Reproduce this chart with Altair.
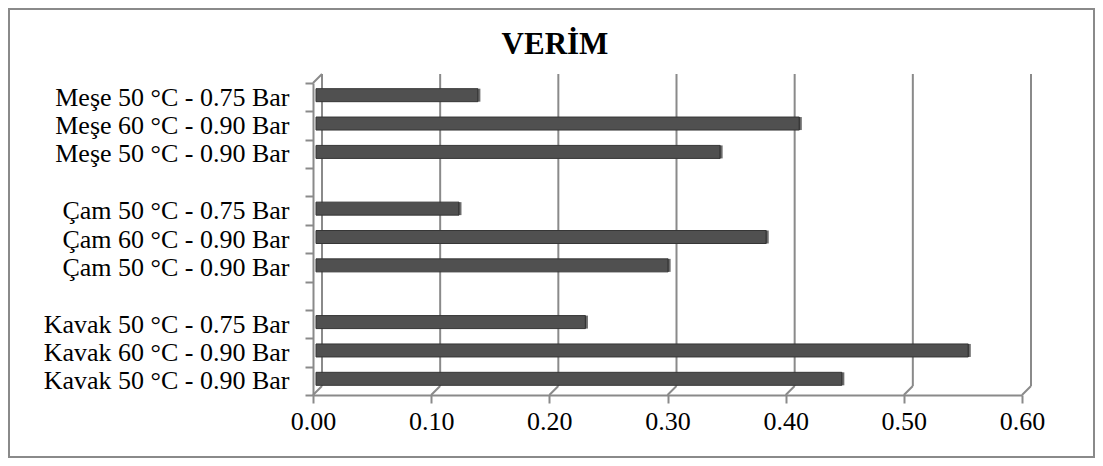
import altair as alt
import pandas as pd

# ---- data ----
categories = [
    "Meşe 50 °C - 0.75 Bar",
    "Meşe 60 °C - 0.90 Bar",
    "Meşe 50 °C - 0.90 Bar",
    " ",
    "Çam 50 °C - 0.75 Bar",
    "Çam 60 °C - 0.90 Bar",
    "Çam 50 °C - 0.90 Bar",
    "  ",
    "Kavak 50 °C - 0.75 Bar",
    "Kavak 60 °C - 0.90 Bar",
    "Kavak 50 °C - 0.90 Bar",
]
bar_labels = [
    "Meşe 50 °C - 0.75 Bar",
    "Meşe 60 °C - 0.90 Bar",
    "Meşe 50 °C - 0.90 Bar",
    "Çam 50 °C - 0.75 Bar",
    "Çam 60 °C - 0.90 Bar",
    "Çam 50 °C - 0.90 Bar",
    "Kavak 50 °C - 0.75 Bar",
    "Kavak 60 °C - 0.90 Bar",
    "Kavak 50 °C - 0.90 Bar",
]
verim = [0.137, 0.409, 0.342, 0.121, 0.381, 0.298, 0.228, 0.552, 0.445]
x_ticks = [0.0, 0.1, 0.2, 0.3, 0.4, 0.5, 0.6]
title_text = "VERİM"

# ---- layout ----
W, H = 709, 312
PAD_L, PAD_T = 305, 75
TOTAL_W, TOTAL_H = 1087, 450
DEPTH = 9
GRID = "#8a8a8a"
FONT = "Liberation Serif"

bars_df = pd.DataFrame({"cat": bar_labels, "value": verim})
ticks_df = pd.DataFrame({"t": x_ticks})

xscale = alt.Scale(domain=[0, 0.6], nice=False, zero=True)
yscale = alt.Scale(domain=categories, paddingInner=0, paddingOuter=0)

x_axis = alt.Axis(
    values=x_ticks, format=".2f", grid=False, title=None,
    domainColor=GRID, domainWidth=2, tickColor=GRID, tickWidth=2,
    tickSize=8, labelFont=FONT, labelFontSize=26, labelColor="#000",
    labelPadding=5, labelFlush=False,
)
y_axis = alt.Axis(
    title=None, domainColor=GRID, domainWidth=2, tickColor=GRID,
    tickWidth=2, tickSize=8, tickBand="extent", labelFont=FONT,
    labelFontSize=26, labelColor="#000", labelPadding=16,
    labelLimit=400,
)

# back-wall gridlines (3D offset)
grid = alt.Chart(ticks_df).mark_rule(
    color=GRID, strokeWidth=2, xOffset=DEPTH
).encode(
    x=alt.X("t:Q", scale=xscale, axis=x_axis),
    y=alt.value(-DEPTH),
    y2=alt.value(H - DEPTH),
)

# floor diagonals from front axis to back wall
diag = alt.Chart(ticks_df).mark_rule(
    color=GRID, strokeWidth=2, x2Offset=DEPTH
).encode(
    x=alt.X("t:Q", scale=xscale, axis=x_axis),
    x2="t:Q",
    y=alt.value(H),
    y2=alt.value(H - DEPTH),
)

# top-left corner diagonal of the category axis
corner = alt.Chart(alt.Data(values=[{}])).mark_rule(
    color=GRID, strokeWidth=2
).encode(
    x=alt.value(0), x2=alt.value(DEPTH), y=alt.value(0), y2=alt.value(-DEPTH)
)

bars = alt.Chart(bars_df).mark_bar(
    color="#505050", stroke="#363636", strokeWidth=1, size=13,
    xOffset=3, yOffset=-2
).encode(
    x=alt.X("value:Q", scale=xscale, axis=x_axis),
    y=alt.Y("cat:N", sort=categories, scale=yscale, axis=y_axis),
)

# dark end cap (side face) of each bar
caps = alt.Chart(bars_df).mark_tick(
    color="#2e2e2e", thickness=3, size=13, orient="vertical",
    xOffset=4, yOffset=-2
).encode(
    x=alt.X("value:Q", scale=xscale, axis=x_axis),
    y=alt.Y("cat:N", sort=categories, scale=yscale, axis=y_axis),
)

title = alt.Chart(alt.Data(values=[{"t": title_text}])).mark_text(
    font=FONT, fontSize=31, fontWeight="bold", color="#000",
    align="center", baseline="alphabetic"
).encode(
    text="t:N", x=alt.value(242), y=alt.value(-29)
)

border = alt.Chart(alt.Data(values=[{}])).mark_rect(
    fill=None, stroke=GRID, strokeWidth=2
).encode(
    x=alt.value(-PAD_L + 1), x2=alt.value(TOTAL_W - PAD_L - 1),
    y=alt.value(-PAD_T + 1), y2=alt.value(TOTAL_H - PAD_T - 1),
)

chart = alt.layer(border, grid, diag, corner, bars, caps, title).properties(
    width=W, height=H,
    background="white",
    autosize=alt.AutoSizeParams(type="none"),
    padding={"left": PAD_L, "top": PAD_T,
             "right": TOTAL_W - PAD_L - W, "bottom": TOTAL_H - PAD_T - H},
).configure_view(stroke=None)

chart.save("out.html", embed_options={"renderer": "svg", "actions": False})
